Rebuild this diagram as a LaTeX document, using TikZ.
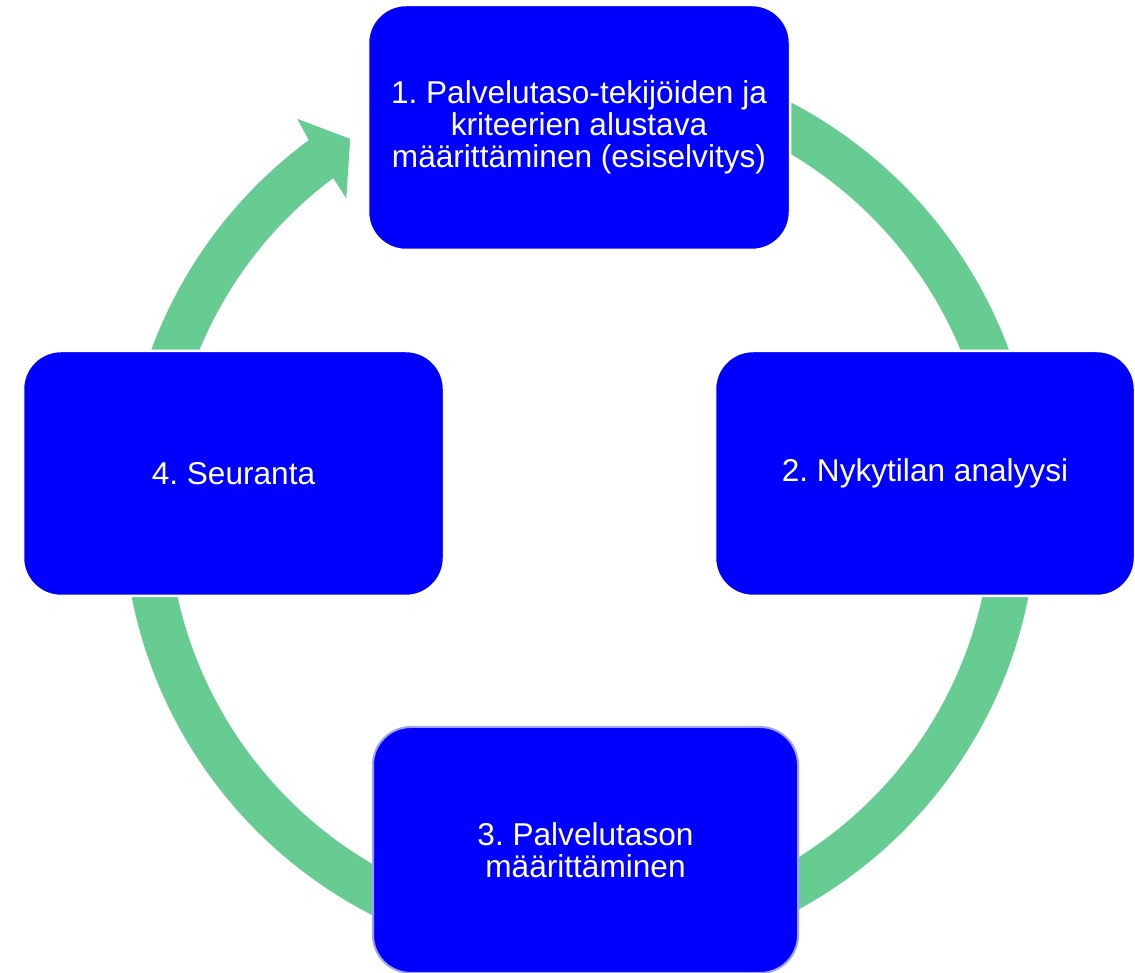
\documentclass[tikz,border=0pt]{standalone}
\usepackage{fontspec}
\setmainfont{Liberation Sans}
\usetikzlibrary{calc}
\definecolor{ringgreen}{RGB}{103,204,146}
\definecolor{boxblue}{RGB}{0,0,255}
\definecolor{boxedge}{RGB}{160,160,255}
\frenchspacing
\begin{document}
\begin{tikzpicture}[x=1pt,y=1pt,
  stagebox/.style={fill=boxblue, draw=white, line width=2.5pt, rounded corners=38pt,
    text=white, align=center, inner sep=0pt,
    font=\fontsize{31.6}{31.7}\selectfont}]
\useasboundingbox (0,0) rectangle (1135,973);
\coordinate (c) at (580,465);
% circular arrow
\fill[ringgreen] ($(c)+(90:457)$) arc[start angle=90,end angle=-233.6,radius=457]
  -- ($(c)+(-234.0:481)$)
  -- ($(c)+(-238.1:434.8)$)
  -- ($(c)+(-232.95:388)$)
  -- ($(c)+(-233.2:412)$)
  arc[start angle=-233.2,end angle=90,radius=412] -- cycle;
% boxes
\node[stagebox, minimum width=422pt, minimum height=245pt] (s1) at (579,845.5)
  {1. Palvelutaso-tekijöiden ja\\kriteerien alustava\\määrittäminen (esiselvitys)};
\node[stagebox, minimum width=420pt, minimum height=245pt] (s2) at (925,499.5)
  {2. Nykytilan analyysi};
\node[stagebox, draw=boxedge, line width=2pt, minimum width=425pt, minimum height=246pt] (s3) at (585.5,123)
  {3. Palvelutason\\määrittäminen};
\node[stagebox, minimum width=421pt, minimum height=245pt] (s4) at (233.5,499.5)
  {4. Seuranta};
\end{tikzpicture}
\end{document}
